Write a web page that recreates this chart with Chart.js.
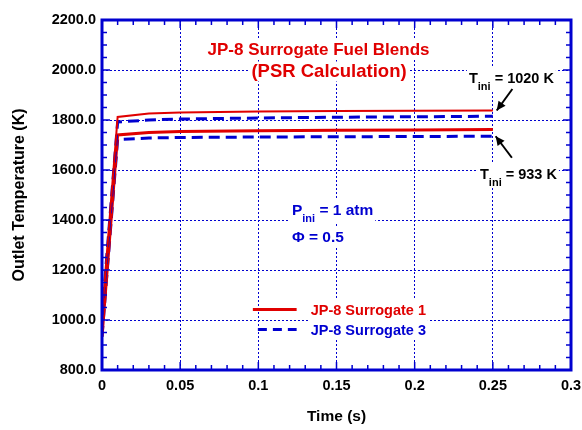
<!DOCTYPE html>
<html>
<head>
<meta charset="utf-8">
<script src="https://cdn.jsdelivr.net/npm/chart.js@4"></script>
<style>
  body { margin: 0; background: #fff; }
  #wrap { width: 582px; height: 430px; }
</style>
</head>
<body>
<div id="wrap"><canvas id="myChart" width="582" height="430"></canvas></div>
<script>
// data
const timeS = [0, 0.01, 0.03, 0.05, 0.1, 0.15, 0.2, 0.25];
const surr1Hot = [1020, 1812, 1826, 1830, 1834, 1836, 1837, 1838];
const surr3Hot = [1020, 1792, 1800, 1804, 1808, 1811, 1813, 1815];
const surr1Cold = [933, 1740, 1750, 1754, 1757, 1759, 1760, 1762];
const surr3Cold = [933, 1722, 1728, 1730, 1732, 1733, 1734, 1735];
const yTicks = [800, 1000, 1200, 1400, 1600, 1800, 2000, 2200];
const xTicks = [0, 0.05, 0.1, 0.15, 0.2, 0.25, 0.3];

const RED = '#e00000';
const BLUE = '#0000d0';
const FONT = "'Liberation Sans', Arial, sans-serif";

function pts(ys) {
  return timeS.map((t, i) => ({ x: t, y: ys[i] }));
}

const data = {
  datasets: [
    { label: 'JP-8 Surrogate 1', data: pts(surr1Hot), borderColor: RED, borderWidth: 2, pointRadius: 0, tension: 0 },
    { label: 'JP-8 Surrogate 3', data: pts(surr3Hot), borderColor: BLUE, borderWidth: 3, borderDash: [11, 6], pointRadius: 0, tension: 0 },
    { label: 'JP-8 Surrogate 1 (933 K)', data: pts(surr1Cold), borderColor: RED, borderWidth: 3, pointRadius: 0, tension: 0 },
    { label: 'JP-8 Surrogate 3 (933 K)', data: pts(surr3Cold), borderColor: BLUE, borderWidth: 3, borderDash: [11, 6], pointRadius: 0, tension: 0 }
  ]
};

// text with white box behind it
function boxText(ctx, txt, x, y, font, color, align) {
  ctx.font = font;
  ctx.textAlign = align || 'left';
  ctx.textBaseline = 'alphabetic';
  const w = ctx.measureText(txt).width;
  let left = x;
  if (align === 'center') left = x - w / 2;
  if (align === 'right') left = x - w;
  ctx.fillStyle = '#fff';
  ctx.fillRect(left - 2, y - 15, w + 4, 20);
  ctx.fillStyle = color;
  ctx.fillText(txt, x, y);
  return left + w;
}

function subText(ctx, main, sub, rest, x, y, color, size) {
  const big = 'bold ' + size + 'px ' + FONT;
  ctx.font = big;
  const w1 = ctx.measureText(main).width;
  ctx.font = 'bold 11px ' + FONT;
  const w2 = ctx.measureText(sub).width;
  ctx.font = big;
  const w3 = ctx.measureText(rest).width;
  ctx.fillStyle = '#fff';
  ctx.fillRect(x - 2, y - 15, w1 + w2 + w3 + 4, 24);
  ctx.fillStyle = color;
  ctx.textAlign = 'left';
  ctx.textBaseline = 'alphabetic';
  ctx.font = big;
  ctx.fillText(main, x, y);
  ctx.font = 'bold 11px ' + FONT;
  ctx.fillText(sub, x + w1, y + 7);
  ctx.font = big;
  ctx.fillText(rest, x + w1 + w2, y);
}

function arrow(ctx, x1, y1, x2, y2) {
  const a = Math.atan2(y2 - y1, x2 - x1);
  ctx.strokeStyle = '#000';
  ctx.fillStyle = '#000';
  ctx.lineWidth = 2;
  ctx.setLineDash([]);
  ctx.beginPath();
  ctx.moveTo(x1, y1);
  ctx.lineTo(x2, y2);
  ctx.stroke();
  ctx.beginPath();
  ctx.moveTo(x2, y2);
  ctx.lineTo(x2 - 10 * Math.cos(a - 0.45), y2 - 10 * Math.sin(a - 0.45));
  ctx.lineTo(x2 - 10 * Math.cos(a + 0.45), y2 - 10 * Math.sin(a + 0.45));
  ctx.closePath();
  ctx.fill();
}

const decor = {
  id: 'decor',
  afterDatasetsDraw(chart) {
    const ctx = chart.ctx;
    const xs = chart.scales.x, ys = chart.scales.y;
    const a = chart.chartArea;
    ctx.save();

    // title
    boxText(ctx, 'JP-8 Surrogate Fuel Blends', xs.getPixelForValue(0.1385), ys.getPixelForValue(2062), 'bold 17px ' + FONT, RED, 'center');
    boxText(ctx, '(PSR Calculation)', xs.getPixelForValue(0.1452), ys.getPixelForValue(1974), 'bold 18.5px ' + FONT, RED, 'center');

    // conditions
    subText(ctx, 'P', 'ini', ' = 1 atm', xs.getPixelForValue(0.1215), ys.getPixelForValue(1420), BLUE, 15.5);
    boxText(ctx, '\u03A6 = 0.5', xs.getPixelForValue(0.1215), ys.getPixelForValue(1313), 'bold 15.5px ' + FONT, BLUE, 'left');

    // initial temperature labels and arrows
    subText(ctx, 'T', 'ini', ' = 1020 K', xs.getPixelForValue(0.2347), ys.getPixelForValue(1949), '#000', 14.5);
    subText(ctx, 'T', 'ini', ' = 933 K', xs.getPixelForValue(0.2418), ys.getPixelForValue(1564), '#000', 14.5);
    arrow(ctx, xs.getPixelForValue(0.2625), ys.getPixelForValue(1924), xs.getPixelForValue(0.2525), ys.getPixelForValue(1838));
    arrow(ctx, xs.getPixelForValue(0.2622), ys.getPixelForValue(1649), xs.getPixelForValue(0.2518), ys.getPixelForValue(1735));

    // legend
    const lx1 = xs.getPixelForValue(0.0965), lx2 = xs.getPixelForValue(0.1245), tx = xs.getPixelForValue(0.1335);
    const ly1 = ys.getPixelForValue(1042), ly2 = ys.getPixelForValue(962);
    ctx.lineWidth = 3;
    ctx.strokeStyle = RED;
    ctx.setLineDash([]);
    ctx.beginPath(); ctx.moveTo(lx1, ly1); ctx.lineTo(lx2, ly1); ctx.stroke();
    boxText(ctx, 'JP-8 Surrogate 1', tx, ly1 + 5, 'bold 14.5px ' + FONT, RED, 'left');
    ctx.strokeStyle = BLUE;
    ctx.setLineDash([9, 6]);
    ctx.beginPath(); ctx.moveTo(lx1 + 5, ly2); ctx.lineTo(lx2, ly2); ctx.stroke();
    ctx.setLineDash([]);
    boxText(ctx, 'JP-8 Surrogate 3', tx, ly2 + 5, 'bold 14.5px ' + FONT, BLUE, 'left');

    // frame and inward ticks
    ctx.strokeStyle = BLUE;
    ctx.lineWidth = 1.5;
    for (let v = 800; v <= 2200; v += 50) {
      const y = ys.getPixelForValue(v);
      const len = v % 200 === 0 ? 8 : 5;
      ctx.beginPath();
      ctx.moveTo(a.left, y); ctx.lineTo(a.left + len, y);
      ctx.moveTo(a.right, y); ctx.lineTo(a.right - len, y);
      ctx.stroke();
    }
    for (let i = 0; i <= 30; i++) {
      const x = xs.getPixelForValue(i / 100);
      const len = i % 5 === 0 ? 8 : 5;
      ctx.beginPath();
      ctx.moveTo(x, a.bottom); ctx.lineTo(x, a.bottom - len);
      ctx.moveTo(x, a.top); ctx.lineTo(x, a.top + len);
      ctx.stroke();
    }
    ctx.lineWidth = 3;
    ctx.strokeRect(a.left, a.top, a.right - a.left, a.bottom - a.top);
    ctx.restore();
  }
};

const config = {
  type: 'line',
  data,
  options: {
    responsive: false,
    animation: false,
    layout: { padding: { top: 20, right: 11, left: 0, bottom: 0 } },
    plugins: {
      legend: { display: false },
      tooltip: { enabled: false }
    },
    scales: {
      x: {
        type: 'linear',
        min: 0,
        max: 0.3,
        afterBuildTicks: s => { s.ticks = xTicks.map(v => ({ value: v })); },
        afterFit: s => { s.height = 60; s.paddingRight = 0; s.paddingLeft = 0; },
        ticks: {
          color: '#000',
          padding: 7,
          maxRotation: 0,
          font: { family: FONT, size: 14.5, weight: 'bold' },
          callback: v => String(v)
        },
        grid: { color: BLUE, lineWidth: 1, drawTicks: false },
        border: { display: false, dash: [2, 2] },
        title: {
          display: true,
          text: 'Time (s)',
          color: '#000',
          padding: { top: 11 },
          font: { family: FONT, size: 15.5, weight: 'bold' }
        }
      },
      y: {
        min: 800,
        max: 2200,
        afterBuildTicks: s => { s.ticks = yTicks.map(v => ({ value: v })); },
        afterFit: s => { s.width = 102; s.paddingTop = 0; s.paddingBottom = 0; },
        ticks: {
          color: '#000',
          padding: 6,
          font: { family: FONT, size: 14.5, weight: 'bold' },
          callback: v => v.toFixed(1)
        },
        grid: { color: BLUE, lineWidth: 1, drawTicks: false },
        border: { display: false, dash: [2, 2] },
        title: {
          display: true,
          text: 'Outlet Temperature (K)',
          color: '#000',
          padding: { top: 10, bottom: 6 },
          font: { family: FONT, size: 16, weight: 'bold' }
        }
      }
    }
  },
  plugins: [decor]
};

const myChart = new Chart(document.getElementById('myChart'), config);
</script>
</body>
</html>
